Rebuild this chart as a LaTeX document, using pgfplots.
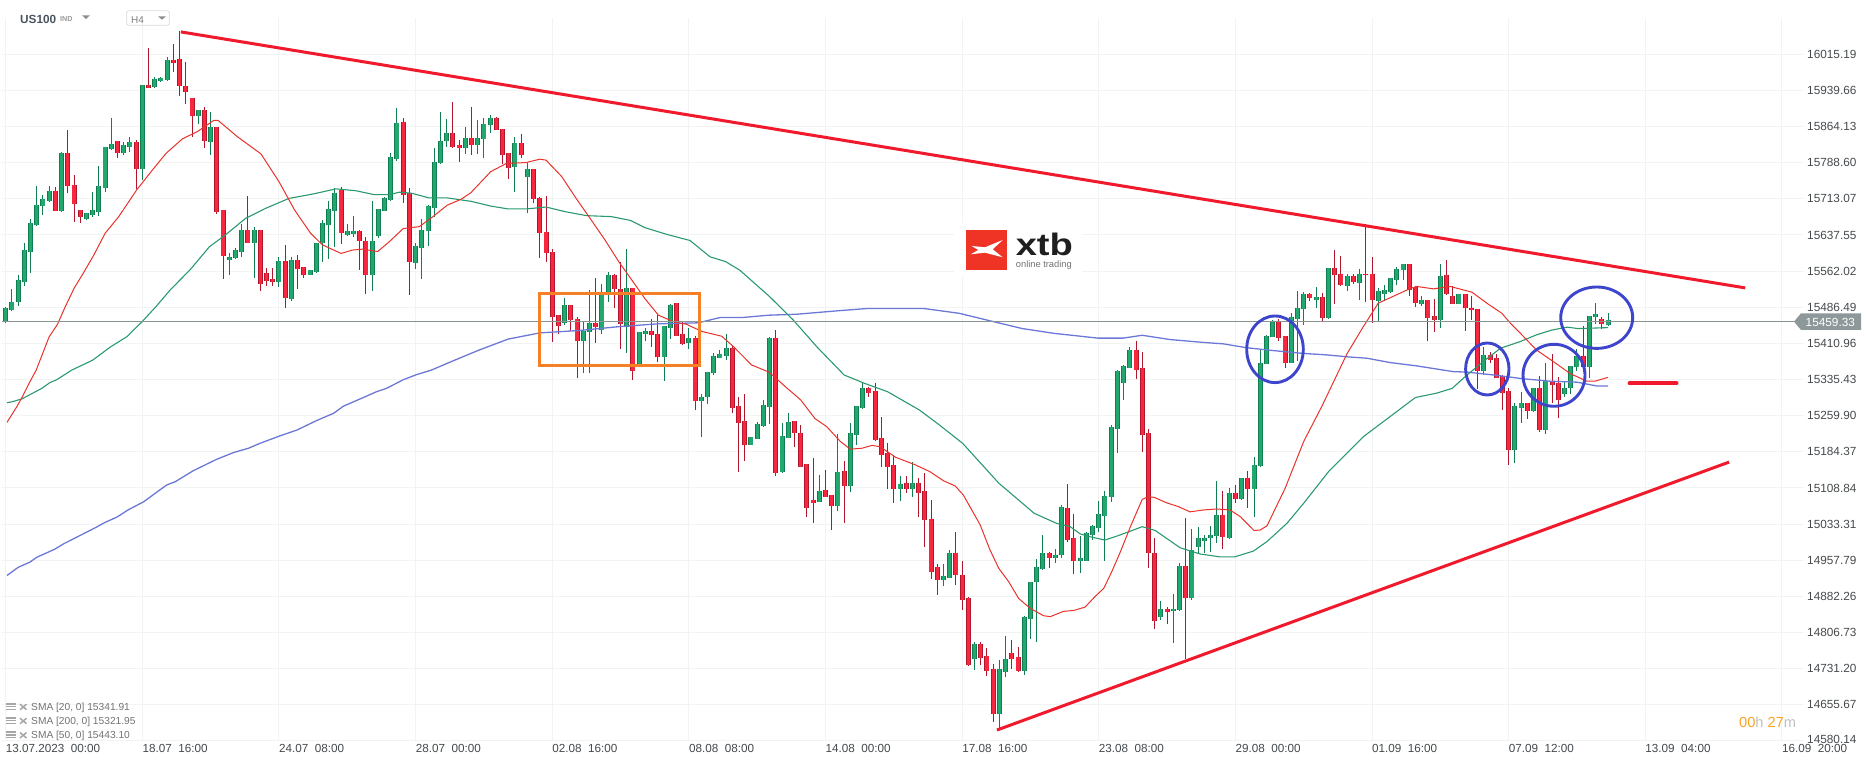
\documentclass[border=0pt]{standalone}
\usepackage{pgfplots}
\usepackage{pgfplotstable}
\usepackage{fontspec}
\setmainfont{Liberation Sans}
\pgfplotsset{compat=1.18}
\definecolor{gfill}{HTML}{22A86E}
\definecolor{gdark}{HTML}{0E7D4F}
\definecolor{rfill}{HTML}{F8263F}
\definecolor{rdark}{HTML}{B0172C}
\definecolor{trend}{HTML}{F01A2C}
\definecolor{smaR}{HTML}{E8322B}
\definecolor{smaG}{HTML}{2A9A6E}
\definecolor{smaB}{HTML}{6C78D6}
\definecolor{gridc}{HTML}{F2F3F3}
\definecolor{lastp}{HTML}{8A9491}
\definecolor{ticktxt}{HTML}{45494C}
\definecolor{orangeb}{HTML}{F58026}
\definecolor{blueb}{HTML}{3D45CC}
\definecolor{tagc}{HTML}{8E979A}
\definecolor{logor}{HTML}{EF3324}
\definecolor{hdrc}{HTML}{4A5560}
\definecolor{cdo}{HTML}{F9A31E}
\pgfplotstableread{
i t b h l
0 15484 15455 15488 15454
1 15498 15481 15524 15479
2 15543 15497 15555 15490
3 15606 15540 15621 15530
4 15662 15603 15670 15559
5 15700 15659 15740 15657
6 15712 15699 15721 15679
7 15729 15709 15739 15706
9 15808 15688 15810 15686
13 15683 15670 15684 15669
14 15689 15680 15727 15676
15 15739 15686 15782 15677
16 15821 15736 15821 15728
17 15828 15818 15882 15815
19 15825 15808 15831 15804
20 15831 15822 15842 15812
22 15952 15776 15952 15753
24 15963 15947 15967 15945
25 15965 15959 15968 15958
26 16003 15962 16010 15959
31 15898 15887 15898 15869
33 15863 15831 15895 15805
36 15592 15586 15599 15555
37 15606 15589 15610 15587
38 15647 15603 15661 15592
40 15647 15620 15654 15548
44 15583 15540 15592 15528
46 15585 15503 15592 15499
49 15564 15555 15564 15553
50 15620 15560 15620 15559
51 15662 15620 15669 15582
52 15691 15659 15708 15587
53 15725 15688 15735 15612
55 15645 15638 15661 15636
56 15645 15640 15677 15634
59 15624 15555 15709 15521
60 15691 15635 15691 15632
61 15714 15688 15718 15687
62 15800 15711 15808 15709
63 15871 15797 15903 15792
66 15614 15578 15620 15566
67 15647 15611 15671 15546
68 15698 15645 15700 15615
69 15791 15695 15819 15676
70 15835 15787 15895 15786
71 15850 15833 15879 15822
74 15840 15820 15864 15807
76 15840 15826 15878 15807
77 15869 15838 15883 15798
78 15883 15867 15888 15851
82 15829 15780 15842 15728
84 15775 15758 15787 15684
90 15491 15453 15505 15450
93 15436 15415 15457 15350
94 15453 15434 15523 15350
96 15516 15439 15535 15431
97 15553 15516 15560 15498
100 15526 15445 15608 15390
102 15434 15369 15434 15367
103 15436 15431 15443 15416
106 15447 15383 15447 15333
107 15491 15444 15493 15421
110 15422 15411 15443 15400
112 15300 15291 15305 15216
113 15351 15298 15351 15285
114 15384 15350 15392 15344
115 15389 15381 15397 15380
116 15401 15385 15430 15376
120 15215 15199 15215 15198
121 15242 15212 15247 15211
122 15282 15239 15292 15237
123 15422 15279 15425 15243
125 15217 15143 15244 15141
126 15247 15214 15265 15214
131 15103 15080 15136 15080
134 15142 15072 15222 15061
136 15223 15114 15245 15101
137 15280 15220 15280 15199
138 15317 15275 15331 15273
144 15117 15107 15134 15082
146 15119 15107 15163 15089
151 14924 14917 14949 14904
152 14974 14921 14979 14920
156 14782 14751 14787 14729
160 14730 14637 14750 14606
161 14751 14725 14799 14713
164 14839 14727 14841 14718
165 14912 14836 14912 14793
166 14943 14912 14960 14788
167 14972 14940 15011 14938
169 14968 14963 14981 14953
170 15069 14968 15073 14963
173 14962 14956 15009 14932
174 15014 14957 15017 14956
175 15029 15011 15031 15000
176 15054 15026 15082 15017
177 15092 15051 15102 14956
178 15236 15091 15240 15080
179 15353 15233 15355 15183
180 15364 15329 15366 15293
181 15397 15360 15403 15360
186 14855 14840 14872 14832
188 14855 14851 14887 14784
189 14945 14853 14952 14851
191 14979 14878 15023 14874
192 15004 14986 15027 14974
193 15004 14999 15011 14974
194 15010 15004 15030 14976
195 15052 15008 15124 14993
197 15098 15005 15109 15003
199 15129 15085 15129 15084
201 15156 15106 15173 15049
202 15371 15155 15399 15153
203 15426 15368 15428 15367
204 15457 15425 15460 15424
207 15466 15371 15474 15371
208 15484 15463 15520 15374
209 15514 15482 15518 15450
211 15507 15502 15528 15486
213 15568 15465 15568 15463
216 15551 15532 15557 15521
218 15557 15538 15566 15502
221 15520 15500 15526 15457
222 15522 15515 15534 15500
223 15547 15519 15547 15517
224 15566 15544 15570 15534
225 15576 15564 15576 15543
228 15501 15493 15511 15489
231 15551 15459 15577 15444
234 15515 15494 15515 15493
238 15386 15354 15403 15346
243 15280 15189 15286 15162
244 15286 15277 15310 15245
246 15317 15270 15317 15267
248 15332 15231 15370 15222
251 15317 15306 15332 15298
252 15363 15317 15363 15305
253 15384 15361 15399 15354
255 15468 15362 15468 15339
256 15472 15466 15495 15452
258 15459 15450 15474 15447
}\Tg
\pgfplotstableread{
i t b h l
8 15729 15688 15737 15687
10 15808 15739 15857 15726
11 15741 15703 15763 15665
12 15689 15676 15689 15662
18 15833 15808 15833 15798
21 15831 15776 15836 15734
23 15952 15945 16028 15945
27 16003 15998 16037 15979
28 16005 15948 16063 15928
29 15948 15937 15999 15911
30 15923 15887 15923 15843
32 15898 15833 15904 15819
34 15863 15686 15864 15681
35 15689 15594 15689 15546
39 15647 15620 15719 15620
41 15647 15536 15649 15521
42 15558 15542 15568 15531
43 15545 15540 15568 15532
45 15583 15505 15616 15486
47 15585 15567 15596 15525
48 15570 15555 15570 15547
54 15732 15641 15737 15619
57 15645 15624 15648 15564
58 15626 15555 15633 15514
64 15873 15722 15883 15705
65 15725 15582 15735 15512
72 15850 15822 15916 15819
73 15826 15820 15836 15790
75 15840 15826 15905 15805
79 15883 15858 15885 15857
80 15860 15805 15860 15785
81 15808 15778 15808 15755
83 15829 15805 15849 15799
85 15775 15712 15775 15705
86 15714 15641 15718 15590
87 15643 15599 15719 15581
88 15601 15467 15608 15413
89 15470 15448 15470 15431
91 15491 15459 15491 15436
92 15461 15415 15467 15339
95 15453 15446 15547 15411
98 15553 15524 15556 15484
99 15524 15452 15582 15399
101 15526 15354 15526 15335
104 15436 15429 15463 15404
105 15430 15383 15470 15372
108 15495 15427 15495 15426
109 15430 15410 15456 15408
111 15422 15291 15427 15272
117 15401 15277 15406 15265
118 15280 15245 15300 15143
119 15248 15199 15305 15166
124 15422 15141 15438 15134
127 15248 15223 15248 15195
128 15223 15153 15241 15152
129 15158 15066 15158 15048
130 15083 15078 15172 15036
132 15104 15091 15146 15091
133 15094 15071 15094 15021
135 15144 15114 15165 15036
139 15317 15308 15319 15300
140 15311 15210 15328 15208
141 15213 15178 15257 15153
142 15181 15153 15202 15107
143 15156 15107 15178 15077
145 15119 15107 15133 15098
147 15119 15099 15129 15049
148 15102 15043 15141 14986
149 15045 14934 15084 14919
150 14943 14917 14950 14885
153 14974 14926 15017 14906
154 14926 14875 14956 14854
155 14878 14739 14881 14737
157 14782 14754 14787 14739
158 14757 14727 14775 14716
159 14730 14637 14741 14619
162 14763 14752 14791 14730
163 14755 14727 14777 14725
168 14972 14963 14975 14942
171 15066 15001 15117 14997
172 15004 14957 15055 14930
182 15397 15356 15416 15337
183 15359 15220 15393 15185
184 15223 14972 15232 14942
185 14974 14830 15004 14815
187 14857 14850 14860 14825
190 14945 14878 15046 14752
196 15052 15006 15103 14981
198 15098 15085 15115 15078
200 15129 15106 15144 15068
205 15457 15423 15463 15417
206 15426 15371 15426 15360
210 15514 15505 15517 15500
212 15507 15465 15516 15458
214 15568 15555 15606 15493
215 15557 15534 15594 15532
217 15551 15539 15556 15535
219 15557 15553 15660 15498
220 15557 15501 15591 15454
226 15576 15522 15576 15511
227 15528 15495 15532 15488
229 15501 15465 15501 15417
230 15468 15459 15503 15435
232 15553 15514 15585 15512
233 15511 15494 15530 15493
235 15515 15484 15515 15437
236 15486 15481 15511 15460
237 15482 15354 15482 15315
239 15386 15376 15394 15370
240 15380 15339 15389 15339
241 15342 15308 15346 15272
242 15311 15189 15317 15157
245 15286 15270 15286 15253
247 15317 15231 15343 15226
249 15332 15325 15389 15286
250 15328 15292 15341 15256
254 15384 15362 15447 15351
257 15463 15451 15467 15442
}\Tr
\newcommand{\wicks}[2]{\addplot[forget plot, draw=none, mark=none, error bars/.cd, y dir=both, y explicit, error mark=none, error bar style={solid, line width=1pt, draw=#2}] table[x=i,y=t,y error plus expr=\thisrow{h}-\thisrow{t},y error minus expr=\thisrow{t}-\thisrow{l}] {#1};}
\newcommand{\bodies}[3]{\addplot[forget plot, draw=none, mark=none, error bars/.cd, y dir=minus, y explicit, error mark=none, error bar style={solid, line width=#3pt, draw=#2}] table[x=i,y=t,y error minus expr=\thisrow{t}-\thisrow{b}] {#1};}
\begin{document}
\begin{tikzpicture}[x=1pt,y=1pt]
\path[use as bounding box] (0,0) rectangle (1866,767);
\begin{axis}[
  at={(2pt,26pt)}, anchor=south west, scale only axis, width=1801pt, height=723pt,
  xmin=-0.6, xmax=289.4, ymin=14580.14, ymax=16091.05,
  axis line style={draw=none}, major tick length=0pt,
  xmajorgrids, ymajorgrids, grid style={gridc, line width=1pt},
  xtick={0,22,44,66,88,110,132,154,176,198,220,242,264,286},
  xticklabels={13.07.2023\ \ 00:00,18.07\ \ 16:00,24.07\ \ 08:00,28.07\ \ 00:00,02.08\ \ 16:00,08.08\ \ 08:00,14.08\ \ 00:00,17.08\ \ 16:00,23.08\ \ 08:00,29.08\ \ 00:00,01.09\ \ 16:00,07.09\ \ 12:00,13.09\ \ 04:00,16.09\ \ 20:00},
  xticklabel style={anchor=north west, inner sep=0pt, yshift=-3.5pt, text=ticktxt, font=\fontsize{11.7}{14}\selectfont},
  ytick={14580.14,14655.67,14731.20,14806.73,14882.26,14957.79,15033.31,15108.84,15184.37,15259.90,15335.43,15410.96,15486.49,15562.02,15637.55,15713.07,15788.60,15864.13,15939.66,16015.19},
  yticklabels={\raisebox{4pt}{14580.14},14655.67,\raisebox{-1.5pt}{14731.20},14806.73,14882.26,14957.79,15033.31,15108.84,15184.37,15259.90,15335.43,\raisebox{-2pt}{15410.96},\raisebox{-1.5pt}{15486.49},15562.02,15637.55,15713.07,15788.60,15864.13,15939.66,16015.19},
  yticklabel pos=right,
  yticklabel style={anchor=west, inner sep=0pt, xshift=4pt, text=ticktxt, font=\fontsize{11.8}{14}\selectfont},
  clip=false,
]
\wicks{\Tg}{gdark}
\wicks{\Tr}{rdark}
\bodies{\Tg}{gdark}{5}
\bodies{\Tr}{rdark}{5}
\bodies{\Tg}{gfill}{3.2}
\bodies{\Tr}{rfill}{3.2}
% SMA 200
\addplot[forget plot, smaB, line width=1.3pt, line join=round] coordinates {
(0.2,14926)(2,14943)(3.9,14954)(5,14964)(7.9,14981)(9.3,14992)(14.6,15027)(16,15037)(17.9,15048)(19.7,15063)(22.2,15080)(25.9,15115)(27.3,15122)(30.2,15145)(34,15169)(36.7,15183)(39.1,15192)(40.9,15202)(44.2,15218)(46.9,15230)(50.1,15250)(52.8,15265)(54.4,15280)(57.6,15298)(59.7,15310)(61.3,15317)(64,15335)(66.2,15346)(68.5,15355)(72.3,15376)(76.2,15397)(80.9,15420)(86,15433)(92.4,15438)(98.7,15446)(105.1,15452)(111.5,15454)(115,15465)(118.5,15465)(122.9,15470)(127.4,15472)(133.8,15479)(138.8,15484)(147.8,15484)(153.5,15474)(159.2,15456)(163.7,15442)(168.8,15432)(175.9,15422)(179.9,15422)(183,15428)(187.5,15419)(192.9,15413)(196.1,15410)(199.8,15402)(204.1,15396)(209,15390)(212.7,15387)(216,15383)(219.2,15380)(222.9,15371)(227.2,15364)(233.1,15352)(235.3,15351)(239.6,15345)(244.4,15337)(248.7,15332)(253,15330)(256.2,15322)(258,15322)};
% SMA 50
\addplot[forget plot, smaG, line width=1.1pt, line join=round] coordinates {
(0.2,15287)(1,15289)(2.6,15295)(5.8,15317)(7.1,15329)(8.2,15335)(10.6,15355)(14,15376)(16.9,15404)(19.5,15425)(22,15457)(24.2,15488)(26.5,15523)(29.7,15565)(32.8,15613)(35.4,15638)(38.6,15672)(41.8,15693)(45.6,15714)(49.4,15723)(53.2,15734)(56.4,15730)(59.3,15722)(61.8,15722)(63.4,15727)(65.3,15725)(68.2,15715)(71.1,15715)(74.9,15708)(78.1,15698)(80.9,15692)(83.8,15692)(87,15696)(90.2,15686)(93.5,15678)(97.5,15676)(100.6,15668)(102.9,15653)(106.4,15639)(110.2,15626)(113.4,15592)(115.9,15582)(118.2,15564)(122.9,15510)(126.8,15460)(130.6,15404)(135,15345)(138.2,15328)(142,15310)(147.1,15272)(150.3,15241)(154.1,15202)(159.9,15119)(165.6,15056)(169.2,15035)(171.4,15028)(173,15013)(174.6,15007)(177,15000)(179.5,15011)(183,15028)(185.1,15020)(189.1,14984)(192.3,14971)(195.5,14965)(197.9,14965)(200.9,14977)(203.1,14997)(206.3,15035)(209,15077)(213,15143)(218.6,15216)(222.9,15258)(227,15298)(230.4,15307)(232.9,15317)(235.3,15345)(237.9,15373)(240.7,15401)(243.9,15415)(246.5,15429)(249,15439)(251.4,15445)(253.2,15442)(258,15444)};
% SMA 20
\addplot[forget plot, smaR, line width=1pt, line join=round] coordinates {
(0.2,15246)(1.8,15279)(2.7,15300)(3.9,15331)(4.9,15355)(7,15425)(8.3,15450)(9.6,15488)(11,15526)(12.5,15558)(14.2,15596)(16,15641)(18.2,15676)(21.1,15732)(23.6,15773)(25.8,15808)(28.4,15838)(30.9,15854)(33.5,15877)(34.2,15877)(37.3,15843)(41.1,15807)(44,15749)(46.5,15690)(49.1,15641)(51,15617)(54,15599)(55.8,15606)(57.4,15608)(59.9,15603)(61.8,15624)(64,15651)(66.6,15655)(68.8,15676)(71.1,15700)(73.3,15712)(74.9,15726)(78.1,15770)(80.6,15787)(83.8,15789)(86,15796)(87,15794)(89.5,15760)(91.8,15715)(93.9,15676)(96.5,15627)(98.7,15582)(101,15540)(102.9,15505)(105.1,15470)(107.6,15456)(109.6,15451)(112.1,15436)(115.3,15426)(117.2,15404)(120.1,15366)(122.9,15351)(125.5,15321)(128,15293)(130.3,15254)(132.2,15237)(134.4,15206)(136,15190)(137.9,15192)(139.5,15198)(140.8,15195)(143.3,15173)(146.5,15157)(148.8,15143)(151,15124)(152.9,15113)(154.2,15094)(156.9,15032)(158.5,14979)(159.9,14941)(161.5,14913)(163.1,14878)(165,14857)(167.1,14842)(168.2,14840)(170.3,14851)(172,14853)(173.8,14860)(175.4,14882)(176.8,14899)(178.1,14934)(179.5,14976)(181.1,15028)(183,15085)(184,15091)(185,15089)(186.9,15078)(188.8,15070)(190.7,15059)(192.9,15063)(195,15065)(197.1,15063)(198.8,15049)(201,15020)(202,15021)(203.1,15030)(206,15108)(209,15206)(211.9,15279)(216,15390)(218.6,15446)(221,15495)(226.2,15526)(227.2,15530)(229.9,15525)(232.6,15530)(236.1,15518)(238.5,15495)(240.9,15474)(242.3,15453)(243.9,15432)(246.5,15397)(249.2,15373)(251.9,15348)(254.6,15332)(255.9,15332)(258,15340)};
% last price
\addplot[forget plot, lastp, line width=1pt] coordinates {(-0.6,15457)(288,15457)};
% trend lines
\addplot[forget plot, trend, line width=3pt] coordinates {(28.2,16062)(280.1,15527)};
\addplot[forget plot, trend, line width=3pt] coordinates {(159.6,14603)(277.5,15163)};
\addplot[forget plot, trend, line width=4.4pt, line cap=round] coordinates {(261.5,15328)(269,15328)};
\end{axis}
% annotations (picture coordinates, 1pt = 1 reference pixel)
\draw[orangeb, line width=3pt] (539.5,767-293.3) rectangle (699.7,767-365.7);
\draw[blueb, line width=2.9pt] (1275,767-349.3) ellipse [x radius=28.3, y radius=33.3];
\draw[blueb, line width=2.9pt] (1487.3,767-369) ellipse [x radius=21.7, y radius=26];
\draw[blueb, line width=2.9pt] (1554,767-375.3) ellipse [x radius=31, y radius=31];
\draw[blueb, line width=2.9pt] (1596.7,767-317.7) ellipse [x radius=36, y radius=30.7];
% last price tag
\fill[tagc] (1794,767-321.6) -- (1801,767-313.3) -- (1861,767-313.3) -- (1861,767-330) -- (1801,767-330) -- cycle;
\node[anchor=west, inner sep=0pt, text=white, font=\fontsize{11.8}{14}\selectfont] at (1805.5,767-322.5) {15459.33};
% logo
\fill[white] (954,767-223) rectangle (1082,767-277);
\fill[logor] (966.3,767-230) rectangle (1006.7,767-270);
\fill[white] (971.7,767-246) -- (985,767-247.3) -- (1002.7,767-240) -- (992.7,767-249.3) -- (1002.7,767-257.3) -- (985,767-252.7) -- (970.7,767-254.3) -- (978.3,767-250) -- cycle;
\node[anchor=base west, inner sep=0pt, text=black!88, xscale=1.23, font=\fontsize{31}{34}\selectfont\bfseries] at (1015.5,767-256) {xtb};
\node[anchor=base west, inner sep=0pt, text=black!55, font=\fontsize{9.3}{10}\selectfont] at (1015.7,767-267.5) {online trading};
% header
\node[anchor=base west, inner sep=0pt, text=hdrc, font=\fontsize{11.8}{14}\selectfont\bfseries] at (20,767-23.5) {US100};
\node[anchor=base west, inner sep=0pt, text=black!40, font=\fontsize{7.2}{8}\selectfont\bfseries] at (60,767-22) {IND};
\fill[black!45] (82,767-15.3) -- (90,767-15.3) -- (86,767-19) -- cycle;
\draw[black!15, line width=0.8pt, rounded corners=1.5pt] (126.7,767-10.7) rectangle (169.3,767-25.3);
\node[anchor=base west, inner sep=0pt, text=black!50, font=\fontsize{10}{12}\selectfont] at (131,767-24) {H4};
\fill[black!45] (158,767-16.3) -- (166,767-16.3) -- (162,767-19.7) -- cycle;
% legend
\foreach \yy/\lab in {707.7/{SMA [20, 0] 15341.91},721.7/{SMA [200, 0] 15321.95},736/{SMA [50, 0] 15443.10}}{
  \node[anchor=west, inner sep=0pt, text=black!55, font=\fontsize{10.2}{12}\selectfont] at (31,767-\yy) {\lab};
  \fill[black!35] (6,767-\yy+5) rectangle (16,767-\yy+2.5);
  \fill[black!35] (6,767-\yy+1.5) rectangle (16,767-\yy+0.3);
  \fill[black!35] (6,767-\yy-1) rectangle (16,767-\yy-2.2);
  \draw[black!35, line width=1.5pt] (20,767-\yy+3.5) -- (26.5,767-\yy-2) (20,767-\yy-2) -- (26.5,767-\yy+3.5);
}
% countdown
\node[anchor=west, inner sep=0pt, font=\fontsize{14.6}{16}\selectfont] at (1739,767-722.7) {\textcolor{cdo}{00}\textcolor{black!25}{h}\ \textcolor{cdo}{27}\textcolor{black!25}{m}};
\end{tikzpicture}
\end{document}
